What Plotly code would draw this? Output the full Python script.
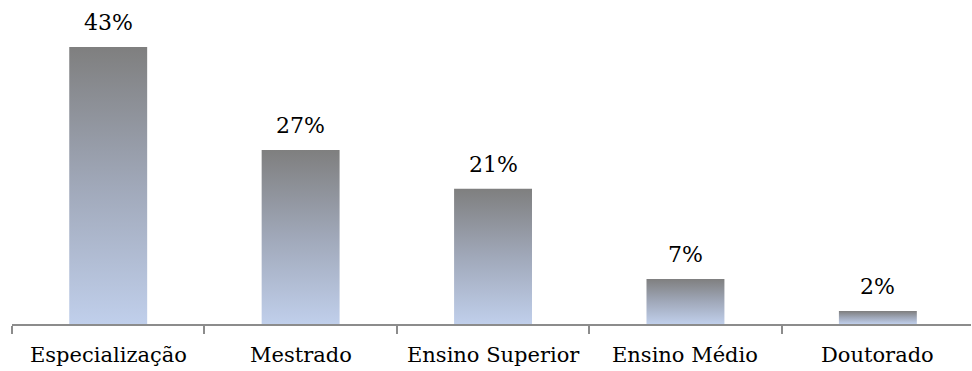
import plotly.graph_objects as go

# Escolaridade dos respondentes (%)
categories = ["Especialização", "Mestrado", "Ensino Superior", "Ensino Médio", "Doutorado"]
values = [43, 27, 21, 7, 2]
value_labels = ["43%", "27%", "21%", "7%", "2%"]

BAR_WIDTH = 0.405
FONT = "DejaVu Serif"
GRADIENT = [[0.0, "#c0cfeb"], [0.5, "#a0a8b9"], [1.0, "#7f7f7f"]]
AXIS_COLOR = "#8c8c8c"

fig = go.Figure()

# Each bar is a filled rectangle so it can carry its own vertical gradient
for i, (cat, v) in enumerate(zip(categories, values)):
    x0, x1 = i - BAR_WIDTH / 2, i + BAR_WIDTH / 2
    fig.add_trace(go.Scatter(
        x=[x0, x1, x1, x0, x0],
        y=[0, 0, v, v, 0],
        mode="lines",
        fill="toself",
        fillgradient=dict(type="vertical", colorscale=GRADIENT),
        line=dict(width=0),
        name=cat,
        hoverinfo="skip",
        showlegend=False,
    ))
    fig.add_annotation(
        x=i, y=v, xref="x", yref="y",
        text=value_labels[i], showarrow=False,
        yanchor="bottom", yshift=10,
        font=dict(family=FONT, size=22, color="#000000"),
    )
    fig.add_annotation(
        x=i, y=0, xref="x", yref="paper",
        text=cat, showarrow=False,
        yanchor="top", yshift=-17,
        font=dict(family=FONT, size=21, color="#000000"),
    )

fig.update_layout(
    width=972, height=371,
    margin=dict(l=12, r=1, t=0, b=47),
    paper_bgcolor="white", plot_bgcolor="white",
    showlegend=False,
    font=dict(family=FONT),
    xaxis=dict(
        range=[-0.5, 4.484],
        tickvals=[k - 0.5 for k in range(len(categories) + 1)],
        ticktext=[""] * (len(categories) + 1),
        ticks="outside", ticklen=8, tickwidth=1.5, tickcolor=AXIS_COLOR,
        showline=True, linecolor=AXIS_COLOR, linewidth=1.5,
        showgrid=False, zeroline=False, fixedrange=True,
    ),
    yaxis=dict(
        range=[0, 50.3],
        visible=False, showgrid=False, zeroline=False, fixedrange=True,
    ),
)

fig.write_html("out.html")
